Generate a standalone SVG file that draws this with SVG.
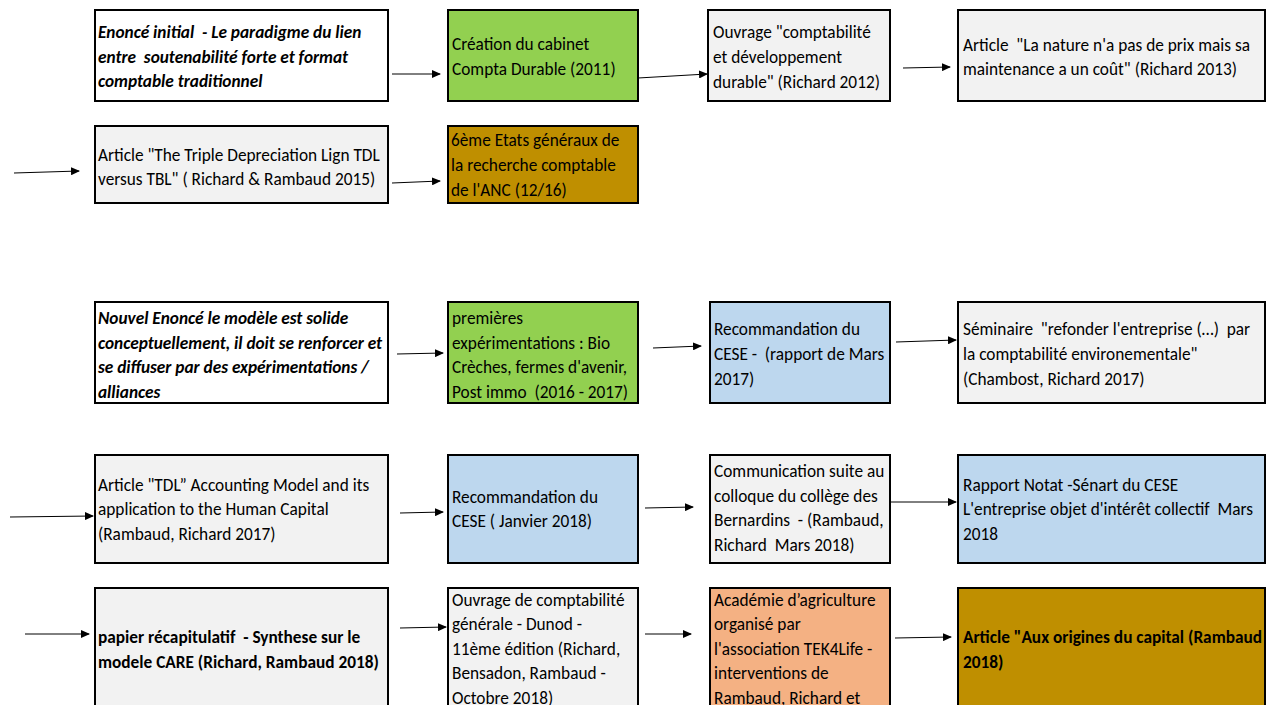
<svg xmlns="http://www.w3.org/2000/svg" width="1267" height="705" viewBox="0 0 1267 705">
<defs>
<marker id="ah" markerWidth="9" markerHeight="8" refX="8" refY="4" orient="auto" markerUnits="userSpaceOnUse">
<path d="M0,0 L9,4 L0,8 Z" fill="#000"/>
</marker>
<style>
.b{stroke:#000;stroke-width:2}
.w{fill:#fff}.g{fill:#92D050}.o{fill:#BF8F00}.gr{fill:#F2F2F2}.bl{fill:#BDD7EE}.s{fill:#F4B183}
text{font-family:Carlito,"Liberation Sans Narrow","Liberation Sans",sans-serif;font-size:17.3px;fill:#000;white-space:pre}
.bi{font-weight:bold;font-style:italic}
.bd{font-weight:bold}
.c line{stroke:#000;stroke-width:1;marker-end:url(#ah)}
</style>
</defs>
<rect width="1267" height="705" fill="#fff"/>
<g id="n1"><rect class="b w" x="95" y="10" width="293" height="91"/><text class="bi"><tspan x="98" y="38">Enoncé initial  - Le paradigme du lien</tspan><tspan x="98" y="63">entre  soutenabilité forte et format</tspan><tspan x="98" y="87">comptable traditionnel</tspan></text></g>
<g id="n2"><rect class="b g" x="448" y="10" width="190" height="91"/><text><tspan x="452" y="50">Création du cabinet</tspan><tspan x="452" y="75">Compta Durable (2011)</tspan></text></g>
<g id="n3"><rect class="b gr" x="708" y="10" width="182" height="91"/><text><tspan x="713" y="38">Ouvrage "comptabilité</tspan><tspan x="713" y="63">et développement</tspan><tspan x="713" y="88">durable" (Richard 2012)</tspan></text></g>
<g id="n4"><rect class="b gr" x="958" y="10" width="307" height="91"/><text><tspan x="963" y="51">Article  "La nature n'a pas de prix mais sa</tspan><tspan x="963" y="75">maintenance a un coût" (Richard 2013)</tspan></text></g>
<g id="n5"><rect class="b gr" x="95" y="126" width="293" height="77"/><text><tspan x="98" y="161">Article "The Triple Depreciation Lign TDL</tspan><tspan x="98" y="185">versus TBL" ( Richard &amp; Rambaud 2015)</tspan></text></g>
<g id="n6"><rect class="b o" x="448" y="126" width="190" height="77"/><text><tspan x="451" y="146">6ème Etats généraux de</tspan><tspan x="451" y="171">la recherche comptable</tspan><tspan x="451" y="196">de l'ANC (12/16)</tspan></text></g>
<g id="n7"><rect class="b w" x="95" y="302" width="293" height="101"/><text class="bi"><tspan x="98" y="324">Nouvel Enoncé le modèle est solide</tspan><tspan x="98" y="349">conceptuellement, il doit se renforcer et</tspan><tspan x="98" y="373">se diffuser par des expérimentations /</tspan><tspan x="98" y="398">alliances</tspan></text></g>
<g id="n8"><rect class="b g" x="448" y="302" width="190" height="101"/><text><tspan x="452" y="324">premières</tspan><tspan x="452" y="349">expérimentations : Bio</tspan><tspan x="452" y="373">Crèches, fermes d'avenir,</tspan><tspan x="452" y="398">Post immo  (2016 - 2017)</tspan></text></g>
<g id="n9"><rect class="b bl" x="710" y="302" width="180" height="101"/><text><tspan x="714" y="335">Recommandation du</tspan><tspan x="714" y="360">CESE -  (rapport de Mars</tspan><tspan x="714" y="385">2017)</tspan></text></g>
<g id="n10"><rect class="b gr" x="958" y="302" width="307" height="101"/><text><tspan x="963" y="335">Séminaire  "refonder l'entreprise (…)  par</tspan><tspan x="963" y="360">la comptabilité environementale"</tspan><tspan x="963" y="385">(Chambost, Richard 2017)</tspan></text></g>
<g id="n11"><rect class="b gr" x="95" y="455" width="293" height="108"/><text><tspan x="98" y="491">Article "TDL” Accounting Model and its</tspan><tspan x="98" y="515">application to the Human Capital</tspan><tspan x="98" y="540">(Rambaud, Richard 2017)</tspan></text></g>
<g id="n12"><rect class="b bl" x="448" y="455" width="190" height="108"/><text><tspan x="452" y="503">Recommandation du</tspan><tspan x="452" y="527">CESE ( Janvier 2018)</tspan></text></g>
<g id="n13"><rect class="b gr" x="710" y="455" width="180" height="108"/><text><tspan x="714" y="477">Communication suite au</tspan><tspan x="714" y="502">colloque du collège des</tspan><tspan x="714" y="526">Bernardins  - (Rambaud,</tspan><tspan x="714" y="551">Richard  Mars 2018)</tspan></text></g>
<g id="n14"><rect class="b bl" x="958" y="455" width="307" height="108"/><text><tspan x="963" y="491">Rapport Notat -Sénart du CESE</tspan><tspan x="963" y="515">L'entreprise objet d'intérêt collectif  Mars</tspan><tspan x="963" y="540">2018</tspan></text></g>
<g id="n15"><rect class="b gr" x="95" y="588" width="293" height="130"/><text class="bd"><tspan x="98" y="643">papier récapitulatif  - Synthese sur le</tspan><tspan x="98" y="668">modele CARE (Richard, Rambaud 2018)</tspan></text></g>
<g id="n16"><rect class="b gr" x="448" y="588" width="190" height="130"/><text><tspan x="452" y="606">Ouvrage de comptabilité</tspan><tspan x="452" y="630">générale - Dunod -</tspan><tspan x="452" y="655">11ème édition (Richard,</tspan><tspan x="452" y="679">Bensadon, Rambaud -</tspan><tspan x="452" y="704">Octobre 2018)</tspan></text></g>
<g id="n17"><rect class="b s" x="710" y="588" width="180" height="130"/><text><tspan x="714" y="606">Académie d’agriculture</tspan><tspan x="714" y="630">organisé par</tspan><tspan x="714" y="655">l'association TEK4Life -</tspan><tspan x="714" y="679">interventions de</tspan><tspan x="714" y="704">Rambaud, Richard et</tspan></text></g>
<g id="n18"><rect class="b o" x="958" y="588" width="307" height="130"/><text class="bd"><tspan x="963" y="643">Article "Aux origines du capital (Rambaud</tspan><tspan x="963" y="668">2018)</tspan></text></g>
<g id="connectors" class="c">
<line x1="392" y1="74" x2="440" y2="74"/>
<line x1="638" y1="78" x2="707" y2="74"/>
<line x1="903" y1="68" x2="950" y2="67"/>
<line x1="14" y1="173" x2="79" y2="171"/>
<line x1="392" y1="183" x2="440" y2="181"/>
<line x1="397" y1="354" x2="443" y2="353"/>
<line x1="653" y1="348" x2="701" y2="346"/>
<line x1="896" y1="342" x2="956" y2="340"/>
<line x1="10" y1="517" x2="93" y2="516"/>
<line x1="400" y1="513" x2="443" y2="512"/>
<line x1="645" y1="508" x2="693" y2="507"/>
<line x1="890" y1="502" x2="956" y2="502"/>
<line x1="25" y1="634" x2="89" y2="634"/>
<line x1="400" y1="628" x2="446" y2="627"/>
<line x1="645" y1="634" x2="691" y2="634"/>
<line x1="895" y1="638" x2="951" y2="637"/>
</g>
</svg>
